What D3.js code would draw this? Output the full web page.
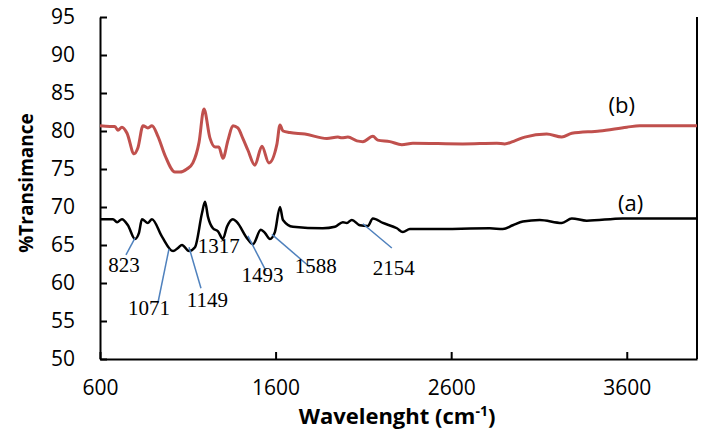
<!DOCTYPE html>
<html lang="en">
<head>
  <meta charset="UTF-8">
  <title>FTIR Spectra</title>
  <script src="https://d3js.org/d3.v7.min.js"></script>
  <style>
    body { margin: 0; background: #ffffff; }
    svg { display: block; }
  </style>
</head>
<body>
  <script>
    // spectrum (a)
    const waveA = [600, 674, 697, 725, 759, 799, 822, 839, 873, 896, 953, 1016, 1044, 1067, 1107, 1141,
                   1181, 1198, 1215, 1243, 1272, 1300, 1323, 1357, 1380, 1437, 1471, 1516, 1539, 1568,
                   1596, 1625, 1642, 1699, 1869, 1938, 1983, 2006, 2034, 2080, 2125, 2154, 2211, 2291,
                   2325, 2365, 2495, 2820, 2894, 2951, 3008, 3104, 3230, 3287, 3372, 3577, 4000];
    const transA = [68.4, 68.4, 68.0, 68.4, 67.6, 65.8, 66.6, 68.4, 67.9, 68.4, 66.1, 64.2, 64.6, 65.0, 64.2, 64.7,
                    69.2, 70.7, 68.7, 67.2, 66.8, 65.8, 67.4, 68.4, 68.0, 65.9, 65.1, 67.0, 66.6, 65.8,
                    66.7, 70.0, 68.3, 67.4, 67.2, 67.4, 68.0, 67.9, 68.3, 67.6, 67.5, 68.5, 67.9, 67.2,
                    66.7, 67.1, 67.1, 67.2, 67.1, 67.6, 68.1, 68.3, 67.9, 68.5, 68.2, 68.5, 68.5];

    // spectrum (b)
    const waveB = [600, 657, 685, 702, 725, 754, 794, 816, 845, 873, 896, 930, 970, 1027, 1055, 1095, 1129,
                   1164, 1192, 1226, 1255, 1277, 1300, 1329, 1357, 1385, 1414, 1442, 1482, 1522, 1562,
                   1607, 1625, 1642, 1681, 1767, 1892, 1955, 1977, 2012, 2063, 2097, 2154, 2182, 2251,
                   2319, 2382, 2666, 2860, 2905, 2962, 3019, 3144, 3230, 3287, 3446, 3600, 3674, 4000];
    const transB = [80.7, 80.6, 80.6, 80.1, 80.5, 79.7, 77.0, 77.8, 80.7, 80.4, 80.7, 79.3, 76.8, 74.6, 74.6, 75.0, 75.8,
                    78.5, 82.9, 79.1, 77.9, 77.9, 76.4, 78.8, 80.7, 80.4, 79.0, 77.5, 75.5, 78.0, 75.8,
                    78.2, 80.8, 80.0, 79.8, 79.6, 79.0, 79.2, 79.1, 79.2, 78.7, 78.6, 79.3, 78.8, 78.6,
                    78.2, 78.4, 78.3, 78.4, 78.3, 78.7, 79.2, 79.6, 79.2, 79.7, 80.0, 80.5, 80.7, 80.7];

    const yTicks = [50, 55, 60, 65, 70, 75, 80, 85, 90, 95];
    const xTicks = [600, 1600, 2600, 3600];

    // band labels: text, where the leader touches the curve, where it ends, where the text sits
    const peakText  = ["823", "1071", "1149", "1317", "1493", "1588", "2154"];
    const peakOnCurve = [[799, 65.9], [993, 64.5], [1107, 64.7], null, [1442, 66.2], [1579, 66.4], [2097, 67.8]];
    const peakLeadEnd = [[748, 63.7], [930, 57.4], [1175, 59.3], null, [1545, 61.6], [1795, 62.1], [2262, 64.6]];
    const peakTextAt  = [[737, 61.4], [879, 55.8], [1212, 56.8], [1277, 63.9], [1525, 60.1], [1829, 61.3], [2273, 61.1]];

    const width = 703, height = 435;
    const x = d3.scaleLinear().domain([600, 4000]).range([100, 697]);
    const y = d3.scaleLinear().domain([50, 95]).range([359, 17]);

    const svg = d3.select("body").append("svg")
        .attr("width", width)
        .attr("height", height);

    const tickFont = "'Open Sans', sans-serif";

    // y axis
    const gy = svg.append("g")
        .attr("transform", `translate(${x(600)},0)`)
        .call(d3.axisLeft(y).tickValues(yTicks).tickSize(-7).tickPadding(25).tickSizeOuter(0));
    // x axis
    const gx = svg.append("g")
        .attr("transform", `translate(0,${y(50)})`)
        .call(d3.axisBottom(x).tickValues(xTicks).tickFormat(d3.format("d"))
          .tickSize(-7).tickPadding(21).tickSizeOuter(0));

    [gy, gx].forEach(g => {
      g.select(".domain").attr("stroke", "#000").attr("stroke-width", 2);
      g.selectAll(".tick line").attr("stroke", "#000").attr("stroke-width", 2);
      g.selectAll(".tick text")
          .attr("fill", "#000")
          .style("font-family", tickFont)
          .style("font-size", "21px");
    });

    // right border
    svg.append("line")
        .attr("x1", x(4000)).attr("x2", x(4000))
        .attr("y1", y(95)).attr("y2", y(50))
        .attr("stroke", "#000").attr("stroke-width", 2);

    const line = d3.line()
        .x(d => x(d[0]))
        .y(d => y(d[1]))
        .curve(d3.curveMonotoneX);

    svg.append("path")
        .datum(waveB.map((w, i) => [w, transB[i]]))
        .attr("d", line)
        .attr("fill", "none")
        .attr("stroke", "#c0504d")
        .attr("stroke-width", 3)
        .attr("stroke-linejoin", "round");

    svg.append("path")
        .datum(waveA.map((w, i) => [w, transA[i]]))
        .attr("d", line)
        .attr("fill", "none")
        .attr("stroke", "#000")
        .attr("stroke-width", 2.5)
        .attr("stroke-linejoin", "round");

    // leader lines
    peakText.forEach((t, i) => {
      if (peakOnCurve[i]) {
        svg.append("line")
            .attr("x1", x(peakOnCurve[i][0])).attr("y1", y(peakOnCurve[i][1]))
            .attr("x2", x(peakLeadEnd[i][0])).attr("y2", y(peakLeadEnd[i][1]))
            .attr("stroke", "#4f81bd")
            .attr("stroke-width", 1.5);
      }
      svg.append("text")
          .attr("x", x(peakTextAt[i][0]))
          .attr("y", y(peakTextAt[i][1]))
          .attr("text-anchor", "middle")
          .style("font-family", "'Liberation Serif', serif")
          .style("font-size", "21px")
          .text(t);
    });

    // series labels
    svg.append("text")
        .attr("x", x(3571)).attr("y", y(82.4))
        .attr("text-anchor", "middle")
        .style("font-family", tickFont)
        .style("font-size", "22px")
        .text("(b)");
    svg.append("text")
        .attr("x", x(3622)).attr("y", y(69.5))
        .attr("text-anchor", "middle")
        .style("font-family", tickFont)
        .style("font-size", "22px")
        .text("(a)");

    // axis titles
    svg.append("text")
        .attr("transform", `translate(33,183) rotate(-90)`)
        .attr("text-anchor", "middle")
        .style("font-family", tickFont)
        .style("font-weight", "bold")
        .style("font-size", "19px")
        .text("%Transimance");

    const xt = svg.append("text")
        .attr("x", 397).attr("y", 424)
        .attr("text-anchor", "middle")
        .style("font-family", tickFont)
        .style("font-weight", "bold")
        .style("font-size", "22px");
    xt.append("tspan").text("Wavelenght (cm");
    xt.append("tspan").attr("dy", -8).style("font-size", "14px").text("-1");
    xt.append("tspan").attr("dy", 8).text(")");
  </script>
</body>
</html>
